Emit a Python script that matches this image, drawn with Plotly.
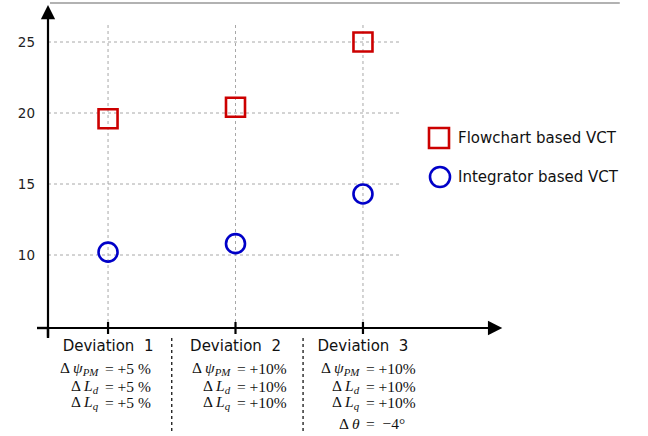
import plotly.graph_objects as go

# --- data -------------------------------------------------------------
categories = ["Deviation  1", "Deviation  2", "Deviation  3"]
x_pos = [1, 2, 3]
flowchart_vct = [19.6, 20.4, 25.0]
integrator_vct = [10.2, 10.8, 14.3]
y_ticks = [10, 15, 20, 25]

# parameter deviations listed under each case: (left side, right side)
deviation_rows = [
    [("Δ\u2009<i>ψ</i><sub><i>PM</i></sub>", "= +5 %"),
     ("Δ\u2009<i>L</i><sub><i>d</i></sub>", "= +5 %"),
     ("Δ\u2009<i>L</i><sub><i>q</i></sub>", "= +5 %")],
    [("Δ\u2009<i>ψ</i><sub><i>PM</i></sub>", "= +10%"),
     ("Δ\u2009<i>L</i><sub><i>d</i></sub>", "= +10%"),
     ("Δ\u2009<i>L</i><sub><i>q</i></sub>", "= +10%")],
    [("Δ\u2009<i>ψ</i><sub><i>PM</i></sub>", "= +10%"),
     ("Δ\u2009<i>L</i><sub><i>d</i></sub>", "= +10%"),
     ("Δ\u2009<i>L</i><sub><i>q</i></sub>", "= +10%"),
     ("Δ\u2009<i>θ</i>", "=  −4°")],
]

RED = "#cc0000"
BLUE = "#0000c8"
GRID = "#a8a8a8"
SANS = "DejaVu Sans"
SERIF = "Liberation Serif"

X_RANGE = [0.529, 4.075]
Y_RANGE = [4.859, 27.606]

fig = go.Figure()

fig.add_trace(go.Scatter(
    x=x_pos, y=flowchart_vct, mode="markers", name="Flowchart based VCT",
    marker=dict(symbol="square-open", size=19, color=RED, line=dict(width=2.6, color=RED)),
    showlegend=False, cliponaxis=False))
fig.add_trace(go.Scatter(
    x=x_pos, y=integrator_vct, mode="markers", name="Integrator based VCT",
    marker=dict(symbol="circle-open", size=19, color=BLUE, line=dict(width=2.6, color=BLUE)),
    showlegend=False, cliponaxis=False))

shapes = []
# dotted horizontal grid, stopping short of the arrow
for yv in y_ticks:
    shapes.append(dict(type="line", xref="x", yref="y", x0=X_RANGE[0], x1=3.29, y0=yv, y1=yv,
                       line=dict(color=GRID, width=1, dash="3px,3px"), layer="below"))
# dotted vertical grid at each case
for xv in x_pos:
    shapes.append(dict(type="line", xref="x", yref="y", x0=xv, x1=xv, y0=Y_RANGE[0], y1=26.2,
                       line=dict(color=GRID, width=1, dash="3px,3px"), layer="below"))
    # tick mark crossing the x axis
    shapes.append(dict(type="line", xref="x", yref="paper", x0=xv, x1=xv,
                       ysizemode="pixel", yanchor=0, y0=-6, y1=6,
                       line=dict(color="black", width=2.2)))
# dashed separators between case descriptions
for xv in [1.5, 2.53]:
    shapes.append(dict(type="line", xref="x", yref="paper", x0=xv, x1=xv,
                       ysizemode="pixel", yanchor=0, y0=-10, y1=-104,
                       line=dict(color="black", width=1.2, dash="3px,3px")))
# axis stubs extending past the origin
shapes.append(dict(type="line", xref="paper", yref="paper", x0=0, x1=0,
                   ysizemode="pixel", yanchor=0, y0=-10, y1=0,
                   line=dict(color="black", width=2.4)))
shapes.append(dict(type="line", xref="paper", yref="paper", y0=0, y1=0,
                   xsizemode="pixel", xanchor=0, x0=-11, x1=0,
                   line=dict(color="black", width=2.4)))
# thin rule across the top
shapes.append(dict(type="line", xref="paper", yref="paper", x0=0.0044, x1=1.265,
                   y0=1.0065, y1=1.0065, line=dict(color="#999999", width=1.5)))

# legend symbols
shapes.append(dict(type="rect", xref="paper", yref="paper",
                   xsizemode="pixel", ysizemode="pixel", xanchor=0, yanchor=1,
                   x0=381, x1=401, y0=-123, y1=-143,
                   line=dict(color=RED, width=2.6)))
shapes.append(dict(type="circle", xref="paper", yref="paper",
                   xsizemode="pixel", ysizemode="pixel", xanchor=0, yanchor=1,
                   x0=382, x1=402, y0=-162, y1=-182,
                   line=dict(color=BLUE, width=2.6)))

annotations = []
# axis arrows
annotations.append(dict(xref="paper", yref="paper", x=1.005, y=0, ax=-465, ay=0,
                        text="", showarrow=True, arrowhead=2, arrowsize=1.3,
                        arrowwidth=2.2, arrowcolor="black"))
annotations.append(dict(xref="paper", yref="paper", x=0, y=1.0, ax=0, ay=333,
                        text="", showarrow=True, arrowhead=2, arrowsize=1.3,
                        arrowwidth=2.2, arrowcolor="black"))
# legend text
annotations.append(dict(xref="paper", yref="paper", x=0, y=1, xshift=408, yshift=-133,
                        xanchor="left", yanchor="middle", showarrow=False,
                        text="Flowchart based VCT", font=dict(family=SANS, size=15, color="#111")))
annotations.append(dict(xref="paper", yref="paper", x=0, y=1, xshift=408, yshift=-172,
                        xanchor="left", yanchor="middle", showarrow=False,
                        text="Integrator based VCT", font=dict(family=SANS, size=15, color="#111")))

# case descriptions
row_offsets = [-40, -58, -74, -95]
eq_shift = [-1, 3, 5]
for xv, rows, es in zip(x_pos, deviation_rows, eq_shift):
    for (lhs, rhs), dy in zip(rows, row_offsets):
        annotations.append(dict(xref="x", yref="paper", x=xv, y=0, xshift=es - 7, yshift=dy,
                                xanchor="right", yanchor="middle", showarrow=False, text=lhs,
                                borderpad=0, font=dict(family=SERIF, size=15.5, color="#111")))
        annotations.append(dict(xref="x", yref="paper", x=xv, y=0, xshift=es - 3, yshift=dy,
                                xanchor="left", yanchor="middle", showarrow=False, text=rhs,
                                borderpad=0, font=dict(family=SERIF, size=15.5, color="#111")))

fig.update_layout(
    width=648, height=436,
    margin=dict(l=48, r=148, t=5, b=108),
    paper_bgcolor="white", plot_bgcolor="white",
    shapes=shapes, annotations=annotations,
    xaxis=dict(range=X_RANGE, tickvals=x_pos, ticktext=categories,
               showgrid=False, zeroline=False, showline=False, ticks="",
               ticklabelstandoff=7,
               tickfont=dict(family=SANS, size=15, color="#111")),
    yaxis=dict(range=Y_RANGE, tickvals=y_ticks, showgrid=False, zeroline=False,
               showline=False, ticks="", ticklabelstandoff=12,
               tickfont=dict(family=SANS, size=13.5, color="#222")),
)

fig.write_html("out.html")
